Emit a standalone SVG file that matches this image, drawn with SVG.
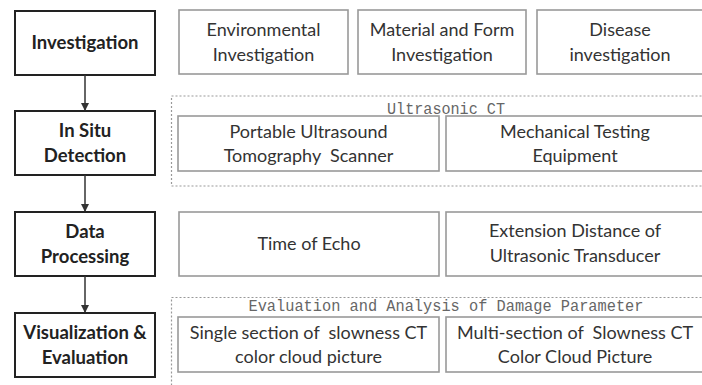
<svg xmlns="http://www.w3.org/2000/svg" width="702" height="385" viewBox="0 0 702 385">
<style>
.main rect{fill:#fff;stroke:#222;stroke-width:2}
.main text{font-family:Lato,"Liberation Sans",sans-serif;font-weight:bold;font-size:18.5px;fill:#222;text-anchor:middle}
.sub rect{fill:#fff;stroke:#999;stroke-width:1.6}
.sub text{font-family:Lato,"Liberation Sans",sans-serif;font-size:18px;fill:#333;text-anchor:middle;white-space:pre}
.grp rect{fill:none;stroke:#999;stroke-width:1.2;stroke-dasharray:2 2}
.grp text{font-family:"Liberation Mono",monospace;font-size:16.5px;fill:#666;text-anchor:middle}
.conn line{stroke:#333;stroke-width:1.5;marker-end:url(#ah)}
</style>
<defs>
<marker id="ah" markerWidth="8" markerHeight="8" refX="7" refY="4" orient="auto" markerUnits="userSpaceOnUse">
<path d="M0,0 L8,4 L0,8 z" fill="#333"/>
</marker>
</defs>
<rect width="702" height="385" fill="#fff"/>
<g id="grp-ultrasonic" class="grp"><rect x="171.5" y="96" width="540" height="90"/><text x="446" y="114" textLength="118" lengthAdjust="spacingAndGlyphs">Ultrasonic CT</text></g>
<g id="grp-evaluation" class="grp"><rect x="171.5" y="297.5" width="540" height="100"/><text x="446" y="311" textLength="395" lengthAdjust="spacingAndGlyphs">Evaluation and Analysis of Damage Parameter</text></g>
<g id="investigation" class="main"><rect x="15" y="11" width="140" height="64"/><text x="85" y="49">Investigation</text></g>
<g id="insitu" class="main"><rect x="15" y="111" width="140" height="64"/><text x="85" y="137">In Situ</text><text x="85" y="162">Detection</text></g>
<g id="dataproc" class="main"><rect x="15" y="212" width="140" height="64"/><text x="85" y="238">Data</text><text x="85" y="263">Processing</text></g>
<g id="viz" class="main"><rect x="15" y="313" width="140" height="64"/><text x="85" y="339">Visualization &amp;</text><text x="85" y="364">Evaluation</text></g>
<g id="env" class="sub"><rect x="179" y="10" width="169" height="64"/><text x="263.5" y="36">Environmental</text><text x="263.5" y="61">Investigation</text></g>
<g id="material" class="sub"><rect x="358" y="10" width="168" height="64"/><text x="442" y="36">Material and Form</text><text x="442" y="61">Investigation</text></g>
<g id="disease" class="sub"><rect x="537" y="10" width="170" height="64"/><text x="620" y="36">Disease</text><text x="620" y="61">investigation</text></g>
<g id="portable" class="sub"><rect x="178" y="116" width="261" height="55"/><text x="308.5" y="138">Portable Ultrasound</text><text x="308.5" y="162" xml:space="preserve">Tomography  Scanner</text></g>
<g id="mechanical" class="sub"><rect x="446" y="116" width="261" height="55"/><text x="575" y="138">Mechanical Testing</text><text x="575" y="162">Equipment</text></g>
<g id="echo" class="sub"><rect x="179" y="212" width="260" height="64"/><text x="309" y="250">Time of Echo</text></g>
<g id="extension" class="sub"><rect x="446" y="212" width="261" height="64"/><text x="575" y="237">Extension Distance of</text><text x="575" y="262">Ultrasonic Transducer</text></g>
<g id="single" class="sub"><rect x="178" y="317" width="261" height="55"/><text x="308.5" y="339" xml:space="preserve">Single section of  slowness CT</text><text x="308.5" y="363">color cloud picture</text></g>
<g id="multi" class="sub"><rect x="446" y="317" width="261" height="55"/><text x="575" y="339" xml:space="preserve">Multi-section of  Slowness CT</text><text x="575" y="363">Color Cloud Picture</text></g>
<g id="connectors" class="conn">
<line x1="85" y1="75" x2="85" y2="110"/>
<line x1="85" y1="175" x2="85" y2="211"/>
<line x1="85" y1="276" x2="85" y2="312"/>
</g>
</svg>
